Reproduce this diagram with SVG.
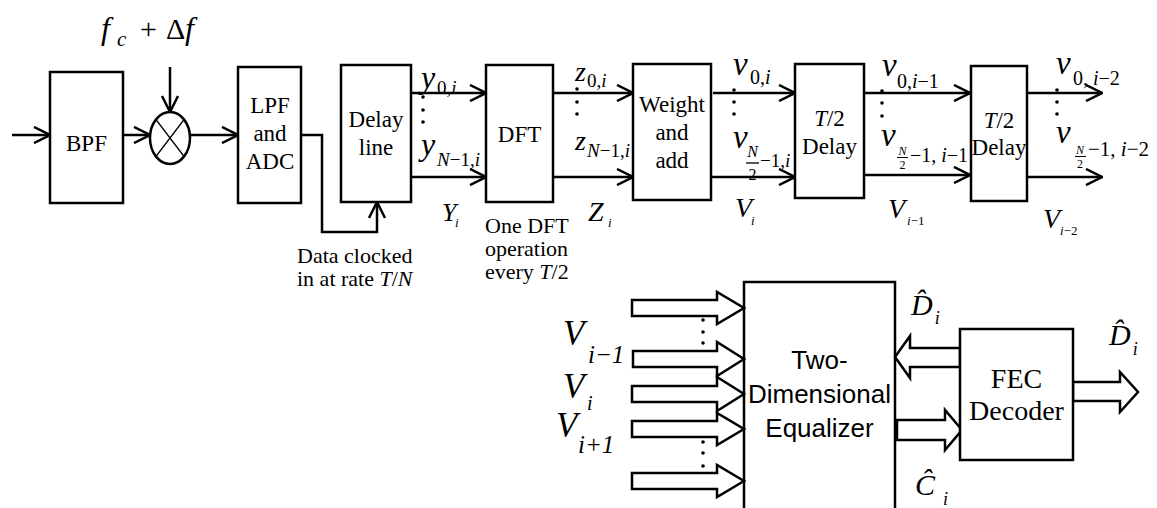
<svg xmlns="http://www.w3.org/2000/svg" width="1157" height="508" viewBox="0 0 1157 508">
<style>
.bx{fill:#fff;stroke:#000;stroke-width:2.5}
.ln{fill:none;stroke:#000;stroke-width:2.5}
.thin{fill:none;stroke:#000;stroke-width:1.5}
.ha{fill:#fff;stroke:#000;stroke-width:2.5;stroke-linejoin:miter}
.t{font-family:"Liberation Serif",serif;font-size:23px;text-anchor:middle;fill:#000}
.big{font-size:28px}
.m{font-family:"Liberation Serif",serif;font-style:italic;fill:#000}
.u{font-style:normal}
.s{font-family:"Liberation Sans",sans-serif;font-size:26px;text-anchor:middle;fill:#000}
</style>
<defs>
<marker id="ah" viewBox="0 0 18 18" refX="17" refY="9" markerWidth="18" markerHeight="18" orient="auto" markerUnits="userSpaceOnUse">
<path d="M1,1 L17,9 L1,17" fill="none" stroke="#000" stroke-width="2.5"/>
</marker>
</defs>

<g id="connectors">
<line class="ln" x1="12" y1="135" x2="50" y2="135" marker-end="url(#ah)"/>
<line class="ln" x1="123" y1="135" x2="150" y2="135" marker-end="url(#ah)"/>
<line class="ln" x1="170" y1="67" x2="170" y2="112" marker-end="url(#ah)"/>
<line class="ln" x1="190" y1="135" x2="238" y2="135" marker-end="url(#ah)"/>
<polyline class="ln" points="301,135 322,135 322,232 377,232 377,202" marker-end="url(#ah)"/>
<line class="ln" x1="411" y1="93" x2="486" y2="93" marker-end="url(#ah)"/>
<line class="ln" x1="411" y1="177" x2="486" y2="177" marker-end="url(#ah)"/>
<line class="ln" x1="553" y1="93" x2="633" y2="93" marker-end="url(#ah)"/>
<line class="ln" x1="553" y1="177" x2="633" y2="177" marker-end="url(#ah)"/>
<line class="ln" x1="713" y1="93" x2="795" y2="93" marker-end="url(#ah)"/>
<line class="ln" x1="711" y1="177" x2="795" y2="177" marker-end="url(#ah)"/>
<line class="ln" x1="864" y1="93" x2="970" y2="93" marker-end="url(#ah)"/>
<line class="ln" x1="864" y1="175" x2="970" y2="175" marker-end="url(#ah)"/>
<line class="ln" x1="1027" y1="93" x2="1102" y2="93" marker-end="url(#ah)"/>
<line class="ln" x1="1027" y1="177" x2="1102" y2="177" marker-end="url(#ah)"/>
<polygon class="ha" points="632,300 717,300 717,292 744,308 717,324 717,316 632,316"/>
<polygon class="ha" points="633,351 717,351 717,342 744,359 717,376 717,367 633,367"/>
<polygon class="ha" points="632,386 717,386 717,377 744,394 717,411 717,402 632,402"/>
<polygon class="ha" points="632,421 717,421 717,413 744,429 717,445 717,437 632,437"/>
<polygon class="ha" points="632,473 717,473 717,465 744,481 717,497 717,489 632,489"/>
<polygon class="ha" points="960,348 910,348 910,336 895,357 910,378 910,367 960,367"/>
<polygon class="ha" points="897,420 945,420 945,410 962,430 945,450 945,440 897,440"/>
<polygon class="ha" points="1073,382 1120,382 1120,372 1138,392 1120,412 1120,401 1073,401"/>
</g>

<g id="bpf"><rect class="bx" x="50" y="72" width="73" height="131"/><text class="t" x="86.5" y="151">BPF</text></g>
<g id="mixer"><ellipse class="bx" cx="170" cy="138" rx="20" ry="26"/><line class="thin" x1="156" y1="119.6" x2="184" y2="156.4"/><line class="thin" x1="184" y1="119.6" x2="156" y2="156.4"/></g>
<g id="lpf"><rect class="bx" x="238" y="67" width="63" height="136"/><text class="t" x="270" y="113">LPF</text><text class="t" x="270" y="141">and</text><text class="t" x="270" y="169">ADC</text></g>
<g id="delayline"><rect class="bx" x="341" y="65" width="70" height="137"/><text class="t" x="376" y="127">Delay</text><text class="t" x="376" y="155">line</text></g>
<g id="dft"><rect class="bx" x="486" y="65" width="67" height="137"/><text class="t" x="519.5" y="142">DFT</text></g>
<g id="weight"><rect class="bx" x="633" y="64" width="78" height="136"/><text class="t" x="672" y="112">Weight</text><text class="t" x="672" y="140">and</text><text class="t" x="672" y="168">add</text></g>
<g id="delay1"><rect class="bx" x="795" y="64" width="69" height="134"/><text class="t" x="829.5" y="126"><tspan font-style="italic">T</tspan>/2</text><text class="t" x="829.5" y="154">Delay</text></g>
<g id="delay2"><rect class="bx" x="971" y="66" width="56" height="135"/><text class="t" x="999" y="128"><tspan font-style="italic">T</tspan>/2</text><text class="t" x="999" y="155">Delay</text></g>
<g id="equalizer"><path class="ln" d="M744,510 V282 H895 V510"/><text class="s" x="819.5" y="369">Two-</text><text class="s" x="819.5" y="403">Dimensional</text><text class="s" x="819.5" y="437">Equalizer</text></g>
<g id="fec"><rect class="bx" x="960" y="329" width="113" height="131"/><text class="t big" x="1016.5" y="388">FEC</text><text class="t big" x="1016.5" y="420">Decoder</text></g>

<g id="labels">
<text class="m" x="101" y="39" font-size="32">f</text>
<text class="m" x="117" y="46" font-size="21">c</text>
<text class="m u" x="140" y="39" font-size="30">+</text>
<text class="m u" x="166" y="39" font-size="30">Δ</text>
<text class="m" x="185" y="39" font-size="32">f</text>

<text class="m" x="421" y="88" font-size="32">y</text>
<text class="m" x="437" y="94" font-size="19"><tspan class="u">0,</tspan>i</text>
<text class="m" x="421" y="155" font-size="32">y</text>
<text class="m" x="437" y="166" font-size="19">N<tspan class="u">−1,</tspan>i</text>
<text class="m" x="442" y="221" font-size="26">Y</text>
<text class="m" x="455" y="227" font-size="13">i</text>

<text class="m" x="575" y="81" font-size="28">z</text>
<text class="m" x="587" y="87" font-size="19"><tspan class="u">0,</tspan>i</text>
<text class="m" x="575" y="150" font-size="28">z</text>
<text class="m" x="587" y="157" font-size="19">N<tspan class="u">−1,</tspan>i</text>
<text class="m" x="588" y="221" font-size="28">Z</text>
<text class="m" x="608" y="227" font-size="13">i</text>

<text class="m" x="733" y="75" font-size="33">v</text>
<text class="m" x="750" y="84" font-size="20"><tspan class="u">0,</tspan>i</text>
<text class="m" x="733" y="148" font-size="33">v</text>
<text class="m" x="752.5" y="157" font-size="16" text-anchor="middle">N</text>
<line x1="746" y1="163" x2="759" y2="163" stroke="#000" stroke-width="1.3"/>
<text class="m u" x="752.5" y="180" font-size="16" text-anchor="middle">2</text>
<text class="m" x="760" y="167" font-size="19"><tspan class="u">−1,</tspan>i</text>
<text class="m" x="735" y="217" font-size="28">V</text>
<text class="m" x="751" y="225" font-size="13">i</text>

<text class="m" x="882" y="76" font-size="33">v</text>
<text class="m" x="897" y="88" font-size="20"><tspan class="u">0,</tspan>i<tspan class="u">−1</tspan></text>
<text class="m" x="881" y="146" font-size="33">v</text>
<text class="m" x="902.5" y="155" font-size="12" text-anchor="middle">N</text>
<line x1="897" y1="157.5" x2="908" y2="157.5" stroke="#000" stroke-width="1"/>
<text class="m u" x="902.5" y="169" font-size="12" text-anchor="middle">2</text>
<text class="m" x="910" y="162" font-size="20"><tspan class="u">−1, </tspan>i<tspan class="u">−1</tspan></text>
<text class="m" x="888" y="218" font-size="28">V</text>
<text class="m" x="907" y="225" font-size="13">i<tspan class="u">−1</tspan></text>

<text class="m" x="1056" y="74" font-size="33">v</text>
<text class="m" x="1073" y="85" font-size="20"><tspan class="u">0, </tspan>i<tspan class="u">−2</tspan></text>
<text class="m" x="1056" y="143" font-size="33">v</text>
<text class="m" x="1080" y="154" font-size="12" text-anchor="middle">N</text>
<line x1="1075" y1="156.5" x2="1086" y2="156.5" stroke="#000" stroke-width="1"/>
<text class="m u" x="1080" y="168" font-size="12" text-anchor="middle">2</text>
<text class="m" x="1088" y="156" font-size="21"><tspan class="u">−1, </tspan>i<tspan class="u">−2</tspan></text>
<text class="m" x="1043" y="228" font-size="28">V</text>
<text class="m" x="1060" y="235" font-size="13">i<tspan class="u">−2</tspan></text>

<text class="m u" x="297" y="263" font-size="22">Data clocked</text>
<text class="m u" x="297" y="286" font-size="22">in at rate <tspan font-style="italic">T</tspan>/<tspan font-style="italic">N</tspan></text>
<text class="m u" x="485" y="233" font-size="22">One DFT</text>
<text class="m u" x="485" y="256" font-size="22">operation</text>
<text class="m u" x="485" y="279" font-size="22">every <tspan font-style="italic">T</tspan>/2</text>

<text class="m" x="563" y="345" font-size="35">V</text>
<text class="m" x="588" y="363" font-size="25">i−1</text>
<text class="m" x="563" y="398" font-size="35">V</text>
<text class="m" x="587" y="410" font-size="20">i</text>
<text class="m" x="556" y="437" font-size="35">V</text>
<text class="m" x="578" y="453" font-size="25">i+1</text>

<text class="m" x="911" y="315" font-size="30">D&#x302;<tspan font-size="18" dx="2" dy="9">i</tspan></text>
<text class="m" x="1109" y="345" font-size="30">D&#x302;<tspan font-size="18" dx="2" dy="10">i</tspan></text>
<text class="m" x="915" y="495" font-size="30">C&#x302;<tspan font-size="18" dx="8" dy="10">i</tspan></text>
</g>
<g id="dots" fill="#000">
<circle cx="423" cy="97" r="1.8"/><circle cx="423" cy="110" r="1.8"/><circle cx="423" cy="122" r="1.8"/>
<circle cx="577" cy="89" r="1.8"/><circle cx="577" cy="102" r="1.8"/><circle cx="577" cy="114" r="1.8"/>
<circle cx="734" cy="90" r="1.8"/><circle cx="734" cy="102" r="1.8"/><circle cx="734" cy="114" r="1.8"/>
<circle cx="882" cy="91" r="1.8"/><circle cx="882" cy="103" r="1.8"/><circle cx="882" cy="116" r="1.8"/>
<circle cx="1057" cy="90" r="1.8"/><circle cx="1057" cy="102" r="1.8"/><circle cx="1057" cy="114" r="1.8"/>
<circle cx="703" cy="320" r="1.8"/><circle cx="703" cy="332" r="1.8"/><circle cx="703" cy="343" r="1.8"/>
<circle cx="703" cy="442" r="1.8"/><circle cx="703" cy="453" r="1.8"/><circle cx="703" cy="466" r="1.8"/>
</g>
</svg>
